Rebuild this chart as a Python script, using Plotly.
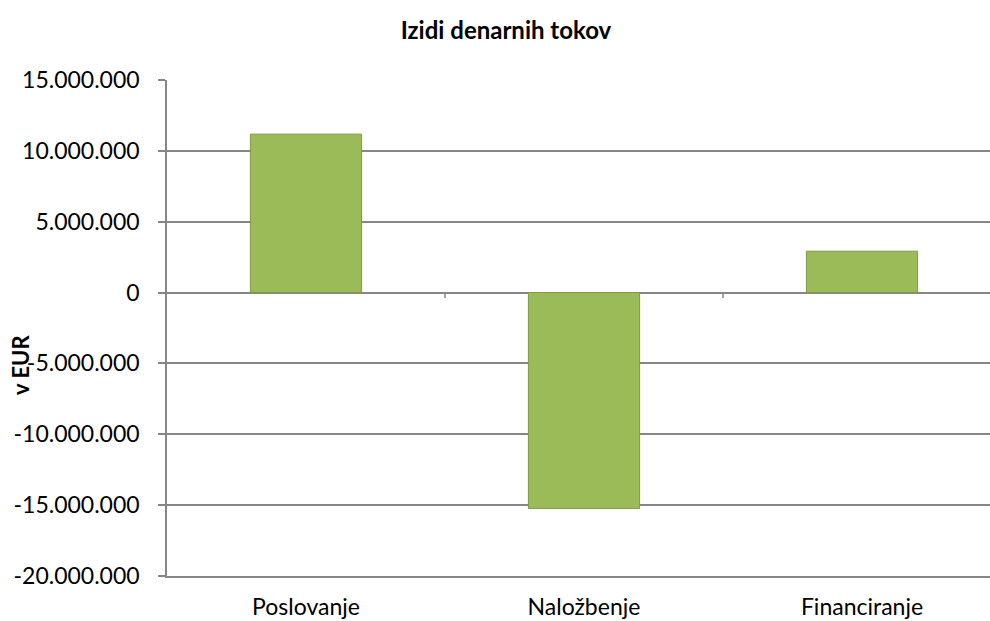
import plotly.graph_objects as go

categories = ["Poslovanje", "Naložbenje", "Financiranje"]
values = [11180000, -15230000, 2920000]
y_tickvals = [15000000, 10000000, 5000000, 0, -5000000, -10000000, -15000000, -20000000]
y_ticktext = [f"{v:,}".replace(",", ".") for v in y_tickvals]

GRID = "#868686"
FONT = "Lato, 'Open Sans', sans-serif"

fig = go.Figure()
fig.add_trace(go.Bar(
    x=categories, y=values,
    marker=dict(color="#9BBB59", line=dict(color="#7F9A45", width=1)),
    width=0.4,
))

# category-boundary tick marks on the zero line
shapes = []
for b in [0.5, 1.5]:
    shapes.append(dict(type="line", xref="x", yref="y", x0=b, x1=b, y0=0, y1=-380000,
                       line=dict(color=GRID, width=1.5)))

fig.update_layout(
    width=990, height=621,
    margin=dict(l=167, r=0, t=80, b=45),
    paper_bgcolor="white", plot_bgcolor="white",
    showlegend=False,
    shapes=shapes,
    title=dict(text="<b>Izidi denarnih tokov</b>", x=506/990, xanchor="center", xref="container",
               y=1 - 31/621, yanchor="middle", yref="container",
               font=dict(family=FONT, size=24, color="black")),
    annotations=[dict(text="<b>v EUR</b>", textangle=-90, xref="paper", yref="paper",
                      x=(20 - 167) / 823, y=(576 - 365) / 496, xanchor="center", yanchor="middle",
                      showarrow=False, font=dict(family=FONT, size=22, color="black"))],
    xaxis=dict(
        type="category", range=[-0.5, -0.5 + 823 / 278], automargin=False,
        showgrid=False, showline=True, linecolor=GRID, linewidth=1.5,
        ticks="", ticklabelstandoff=10,
        tickfont=dict(family=FONT, size=23, color="black"),
    ),
    yaxis=dict(
        range=[-20000000, 15000000], automargin=False,
        tickvals=y_tickvals, ticktext=y_ticktext,
        showgrid=True, gridcolor=GRID, gridwidth=1.5,
        zeroline=True, zerolinecolor=GRID, zerolinewidth=1.5,
        showline=True, linecolor=GRID, linewidth=1.5,
        ticks="outside", ticklen=7, tickcolor=GRID, tickwidth=1.5,
        ticklabelstandoff=14,
        tickfont=dict(family=FONT, size=23, color="black"),
    ),
)

fig.write_html("out.html", config={"displayModeBar": False},
               post_script="document.body.style.margin='0';")
